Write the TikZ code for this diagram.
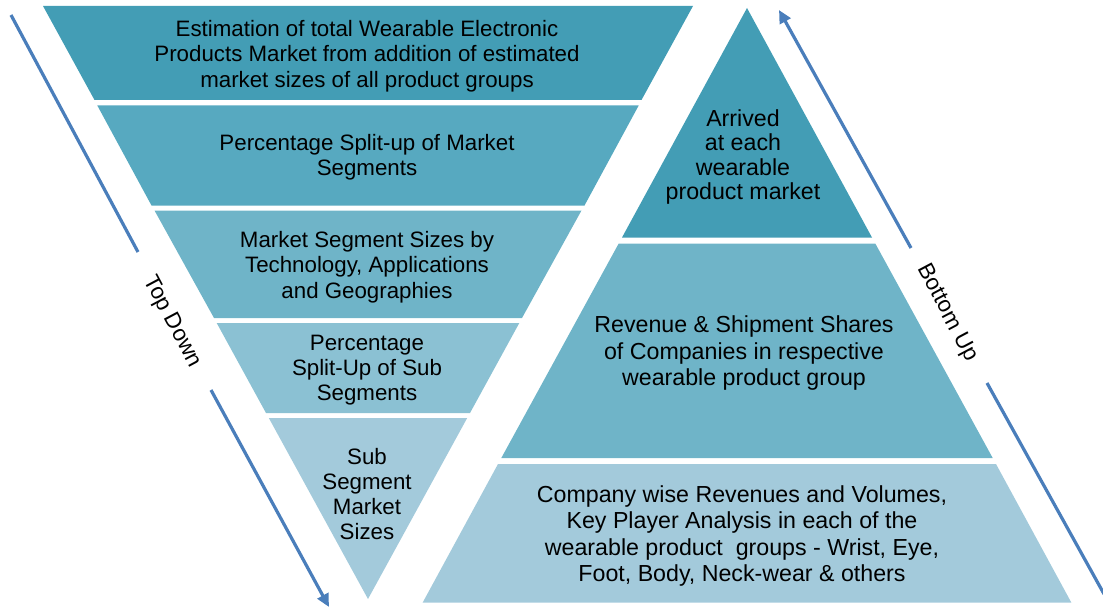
\documentclass[tikz,border=0pt]{standalone}
\usepackage{fontspec}
\setmainfont{Liberation Sans}
\usetikzlibrary{arrows.meta}
\definecolor{bandA}{RGB}{67,157,181}
\definecolor{bandB}{RGB}{87,169,192}
\definecolor{bandC}{RGB}{111,180,200}
\definecolor{bandD}{RGB}{139,193,211}
\definecolor{bandE}{RGB}{163,202,219}
\definecolor{arrowblue}{RGB}{74,126,187}
\tikzset{
  lbl/.style={align=center, inner sep=0pt, text=black, font=\fontsize{22.3}{25.3}\selectfont},
  rlbl/.style={lbl, font=\fontsize{23.2}{26.3}\selectfont},
  tlbl/.style={lbl, font=\fontsize{23.2}{24.4}\selectfont},
  side/.style={inner sep=0pt, text=black, rotate=-62, font=\fontsize{22.5}{25.3}\selectfont},
  flow/.style={draw=arrowblue, line width=3.2pt},
  flowtip/.style={flow, -{Triangle[length=13pt,width=12pt]}}
}
\begin{document}
\begin{tikzpicture}[x=1pt,y=-1pt]
\useasboundingbox (0,0) rectangle (1103,607);
% inverted pyramid (top down)
\fill[bandA] (43,6) -- (693,6) -- (641.5,100) -- (94.5,100) -- cycle;
\fill[bandB] (97.3,105.5) -- (638.7,105.5) -- (584.5,205.5) -- (151.5,205.5) -- cycle;
\fill[bandC] (154.5,210.5) -- (581.5,210.5) -- (522,318) -- (214,318) -- cycle;
\fill[bandD] (216.7,323) -- (519.3,323) -- (470,413) -- (266,413) -- cycle;
\fill[bandE] (268.8,418) -- (467.2,418) -- (368,599) -- cycle;
% upright pyramid (bottom up)
\fill[bandA] (747,8) -- (872,237.5) -- (622,237.5) -- cycle;
\fill[bandC] (618.7,243.5) -- (875.3,243.5) -- (992.7,458) -- (501.3,458) -- cycle;
\fill[bandE] (498,464) -- (996,464) -- (1071.3,602.5) -- (422.7,602.5) -- cycle;
% texts
\node[lbl] (t1) at (367,56) {Estimation of total Wearable Electronic\\Products Market from addition of estimated\\market sizes of all product groups};
\node[lbl] (t2) at (367,157) {Percentage Split-up of Market\\Segments};
\node[lbl] (t3) at (367,267) {Market Segment Sizes by\\Technology, Applications\\and Geographies};
\node[lbl] (t4) at (367,370) {Percentage\\Split-Up of Sub\\Segments};
\node[lbl] (t5) at (367,494) {Sub\\Segment\\Market\\Sizes};
\node[tlbl] (b1) at (743,157) {Arrived\\at each\\wearable\\product market};
\node[rlbl] (b2) at (744,353) {Revenue \& Shipment Shares\\of Companies in respective\\wearable product group};
\node[rlbl] (b3) at (742,536) {Company wise Revenues and Volumes,\\Key Player Analysis in each of the\\wearable product\ \ groups - Wrist, Eye,\\Foot, Body, Neck-wear \& others};
% side labels
\node[side] (td) at (172,322) {Top Down};
\node[side] (bu) at (947,313) {Bottom Up};
% arrows
\coordinate (tdA) at (11,15);
\coordinate (tdB) at (138,252);
\coordinate (tdC) at (211,390);
\coordinate (tdD) at (329,607);
\draw[flow] (tdA) -- (tdB);
\draw[flowtip] (tdC) -- (tdD);
\coordinate (buA) at (1104,594);
\coordinate (buB) at (987,383);
\coordinate (buC) at (911,248);
\coordinate (buD) at (779,10);
\draw[flow] (buA) -- (buB);
\draw[flowtip] (buC) -- (buD);
\end{tikzpicture}
\end{document}
